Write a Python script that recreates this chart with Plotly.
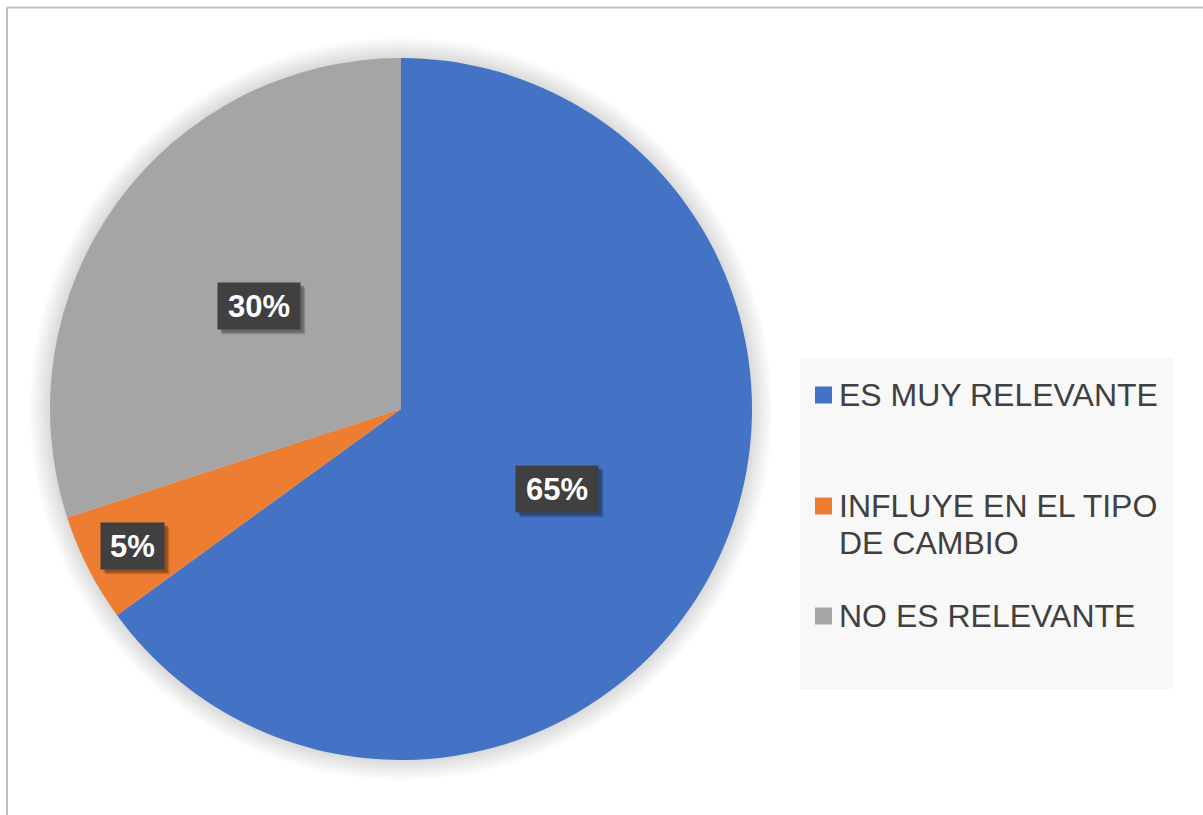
import math
import plotly.graph_objects as go

# Survey answers and their shares (%)
categories = ["ES MUY RELEVANTE", "INFLUYE EN EL TIPO DE CAMBIO", "NO ES RELEVANTE"]
legend_lines = [["ES MUY RELEVANTE"], ["INFLUYE EN EL TIPO", "DE CAMBIO"], ["NO ES RELEVANTE"]]
values = [65, 5, 30]
colors = ["#4472C4", "#ED7D31", "#A5A5A5"]

W, H = 1203, 815
CX, CY, R = 401, 409, 351          # pie centre / radius in pixels
label_radius = [0.50, 0.86, 0.50]  # label distance from centre, fraction of radius


def px(x):
    return x / W


def py(y):
    return 1 - y / H


fig = go.Figure()
fig.add_trace(go.Pie(
    labels=categories,
    values=values,
    marker=dict(colors=colors, line=dict(width=0)),
    sort=False,
    direction="clockwise",
    rotation=0,
    textinfo="none",
    hoverinfo="label+percent",
    showlegend=False,
    domain=dict(x=[px(CX - R), px(CX + R)], y=[py(CY + R), py(CY - R)]),
))

shapes = []
# soft glow around the pie
for k in range(12, 0, -1):
    rr = R + 1.7 * k
    shapes.append(dict(
        type="circle", xref="paper", yref="paper", layer="below",
        x0=px(CX - rr), x1=px(CX + rr), y0=py(CY + rr), y1=py(CY - rr),
        fillcolor="rgba(0,0,0,0.011)", line=dict(width=0),
    ))

# chart frame
shapes.append(dict(type="line", xref="paper", yref="paper",
                   x0=px(7), x1=1.02, y0=py(7.5), y1=py(7.5),
                   line=dict(color="#bfbfbf", width=2)))
shapes.append(dict(type="line", xref="paper", yref="paper",
                   x0=px(7), x1=px(7), y0=py(7.5), y1=-0.02,
                   line=dict(color="#bfbfbf", width=2)))

# legend panel
shapes.append(dict(type="rect", xref="paper", yref="paper",
                   x0=px(800), x1=px(1173), y0=py(689), y1=py(358),
                   fillcolor="#f8f8f8", line=dict(width=0), layer="below"))

annotations = []

# data labels in dark boxes with a drop shadow
total = sum(values)
start = 0.0
for v, f in zip(values, label_radius):
    mid = (start + v / 2) / total * 2 * math.pi
    start += v
    lx = CX + f * R * math.sin(mid)
    ly = CY - f * R * math.cos(mid)
    txt = f"{round(v / total * 100)}%"
    w = 78 if len(txt) > 2 else 59
    for off, col in [(5, "rgba(0,0,0,0.10)"), (4, "rgba(0,0,0,0.14)"), (3, "rgba(0,0,0,0.18)")]:
        annotations.append(dict(
            x=px(lx + off), y=py(ly + off), xref="paper", yref="paper",
            xanchor="center", yanchor="middle",
            text=" ", showarrow=False, width=w, height=42, borderpad=2,
            bgcolor=col, font=dict(size=10),
        ))
    annotations.append(dict(
        x=px(lx), y=py(ly), xref="paper", yref="paper",
        xanchor="center", yanchor="middle",
        text=f"<b>{txt}</b>", showarrow=False, width=w, height=42, borderpad=2,
        bgcolor="#404040", align="center", valign="middle",
        font=dict(family="Liberation Sans, Arial", size=31, color="#ffffff"),
    ))

# legend entries
marker_y = [395, 506, 616]
line_gap = 37
for lines, col, my in zip(legend_lines, colors, marker_y):
    shapes.append(dict(type="rect", xref="paper", yref="paper",
                       x0=px(815), x1=px(832), y0=py(my + 8.5), y1=py(my - 8.5),
                       fillcolor=col, line=dict(width=0)))
    for i, line in enumerate(lines):
        annotations.append(dict(
            x=px(837), y=py(my + i * line_gap), xref="paper", yref="paper",
            xanchor="left", yanchor="middle", text=line, showarrow=False,
            font=dict(family="Liberation Sans, Arial", size=32, color="#404040"),
        ))

fig.update_layout(
    width=W, height=H,
    margin=dict(l=0, r=0, t=0, b=0),
    paper_bgcolor="#ffffff",
    plot_bgcolor="#ffffff",
    shapes=shapes,
    annotations=annotations,
)

fig.write_html("out.html")
